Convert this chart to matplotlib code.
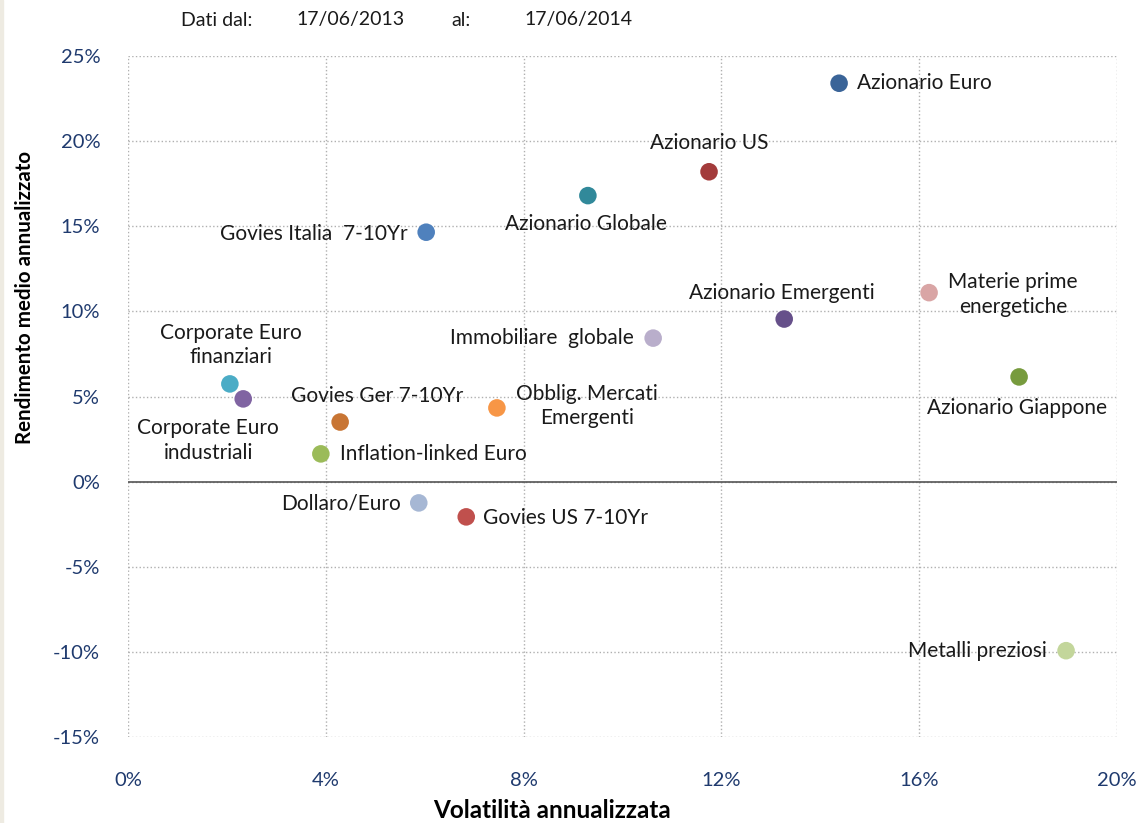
import matplotlib.pyplot as plt
from matplotlib.ticker import FuncFormatter
from matplotlib.patches import Rectangle

# Nomi delle asset class
nomi = [
    "Azionario Euro", "Azionario US", "Azionario Globale", "Govies Italia  7-10Yr",
    "Materie prime\nenergetiche", "Azionario Emergenti", "Immobiliare  globale",
    "Corporate Euro\nfinanziari", "Corporate Euro\nindustriali", "Govies Ger 7-10Yr",
    "Obblig. Mercati\nEmergenti", "Azionario Giappone", "Inflation-linked Euro",
    "Dollaro/Euro", "Govies US 7-10Yr", "Metalli preziosi",
]

# Volatilita annualizzata (%)
volatilita = [14.38, 11.75, 9.30, 6.03, 16.20, 13.27, 10.62, 2.06, 2.33, 4.29,
              7.46, 18.02, 3.90, 5.88, 6.84, 18.97]

# Rendimento medio annualizzato (%)
rendimento = [23.4, 18.2, 16.8, 14.65, 11.1, 9.55, 8.43, 5.74, 4.86, 3.5,
              4.33, 6.15, 1.63, -1.25, -2.07, -9.93]

colori = ["#3A6498", "#A33B3B", "#31899A", "#4F81BD", "#D9A5A5", "#66508A",
          "#B9AECB", "#4BACC6", "#8064A2", "#C87534", "#F79646", "#779B3E",
          "#9BBB59", "#A6B7D4", "#C0504D", "#C3D69B"]

# posizione delle etichette: offset in pixel e allineamento
offset = [(18, 0, "left"), (0, 29, "center"), (-2, -28, "center"), (-19, -2, "right"),
          (19, -2, "left"), (-2, 26, "center"), (-19, 0, "right"),
          (1, 39, "center"), (-35, -42, "center"), (37, 26, "center"),
          (19, 2, "left"), (-2, -31, "center"), (19, 0, "left"),
          (-18, -1, "right"), (17, -1, "left"), (-19, 0, "right")]

plt.rcParams['font.family'] = ['Lato', 'DejaVu Sans']

fig = plt.figure(figsize=(11.38, 8.23), dpi=100)
# bordino beige a sinistra
fig.patches.append(Rectangle((0, 0), 3 / 1138, 1, transform=fig.transFigure,
                             color="#EEEBE2", zorder=0))
ax = fig.add_axes([128 / 1138, 1 - 737 / 823, (1117 - 128) / 1138, (737 - 56) / 823])

ax.scatter(volatilita, rendimento, s=160, c=colori, zorder=3, linewidths=0)

for i in range(len(nomi)):
    dx, dy, ha = offset[i]
    ax.annotate(nomi[i], (volatilita[i], rendimento[i]), xytext=(dx, dy),
                textcoords="offset pixels", ha=ha, va="center", fontsize=15,
                color="#1a1a1a", multialignment="center", linespacing=1.3, zorder=4)

ax.set_xlim(0, 20)
ax.set_ylim(-15, 25)
ax.set_xticks([0, 4, 8, 12, 16, 20])
ax.set_yticks(range(-15, 26, 5))
fmt = FuncFormatter(lambda v, p: "%d%%" % v)
ax.xaxis.set_major_formatter(fmt)
ax.yaxis.set_major_formatter(fmt)
ax.tick_params(length=0, labelsize=14.5, labelcolor="#1F3A6E")
ax.tick_params(axis="x", pad=25)
ax.tick_params(axis="y", pad=20)

ax.grid(True, color="#b0b0b0", linestyle=":", linewidth=1)
ax.set_axisbelow(True)
for s in ax.spines.values():
    s.set_visible(False)
ax.axhline(0, color="#555555", linewidth=1.2, zorder=2)

fig.text(552 / 1138, 1 - 810 / 823, "Volatilità annualizzata", ha="center", va="center",
         fontsize=17.5, fontweight="bold")
fig.text(25 / 1138, 1 - 297 / 823, "Rendimento medio annualizzato", ha="center", va="center",
         fontsize=14.8, fontweight="bold", rotation=90)

for testo, xp in [("Dati dal:", 181), ("17/06/2013", 296), ("al:", 451), ("17/06/2014", 524)]:
    fig.text(xp / 1138, 1 - 20 / 823, testo, ha="left", va="center", fontsize=14, color="#1a1a1a")

fig.savefig("out.png", dpi=100)
